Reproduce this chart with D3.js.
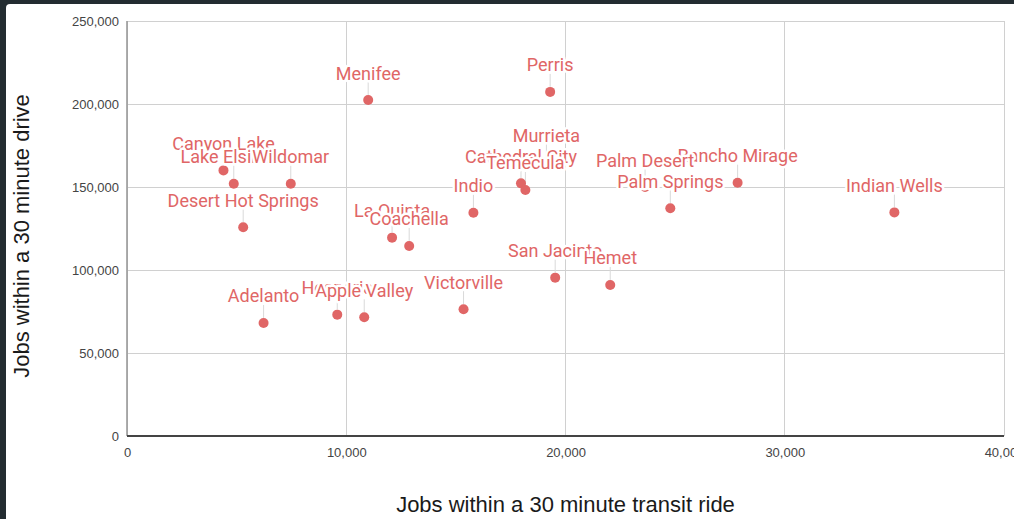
<!DOCTYPE html>
<html>
<head>
<meta charset="utf-8">
<script src="https://cdn.jsdelivr.net/npm/d3@7"></script>
<style>
  html, body { margin: 0; padding: 0; background: #232c31; }
  svg { display: block; }
</style>
</head>
<body>
<svg id="chart" width="1014" height="519"></svg>
<script>
// Cities, in the order their labels are painted (later labels sit on top)
const cities = [
  "Canyon Lake", "Lake Elsinore", "Wildomar", "Menifee", "Perris",
  "Murrieta", "Cathedral City", "Temecula", "Rancho Mirage", "Palm Desert",
  "Palm Springs", "Indian Wells", "Indio", "Desert Hot Springs", "La Quinta",
  "Coachella", "San Jacinto", "Hemet", "Adelanto", "Hesperia",
  "Apple Valley", "Victorville"
];
// Jobs reachable within a 30 minute transit ride
const transitJobs = [
  4400, 4870, 7470, 11000, 19300,
  19130, 17970, 18170, 27850, 23630,
  24780, 35000, 15800, 5300, 12090,
  12870, 19530, 22040, 6230, 9590,
  10820, 15350
];
// Jobs reachable within a 30 minute drive
const driveJobs = [
  160000, 152000, 152000, 202400, 207300,
  165000, 152200, 148200, 152600, 150000,
  137200, 134700, 134500, 125700, 119500,
  114500, 95400, 91000, 68100, 73100,
  71500, 76400
];
const xTicks = [0, 10000, 20000, 30000, 40000];
const yTicks = [0, 50000, 100000, 150000, 200000, 250000];

const points = cities.map((name, i) => ({ name, x: transitJobs[i], y: driveJobs[i] }));

const svg = d3.select("#chart");
const red = "#e06666";

// white card on the dark page
svg.append("rect")
  .attr("x", 6).attr("y", 4).attr("width", 1020).attr("height", 530)
  .attr("rx", 4).attr("fill", "#ffffff");

const x = d3.scaleLinear().domain([0, 40000]).range([127, 1004]);
const y = d3.scaleLinear().domain([0, 250000]).range([436, 21]);
const fmt = d3.format(",");

// gridlines
const grid = svg.append("g");
grid.selectAll("line.v").data(xTicks).join("line")
  .attr("x1", d => x(d)).attr("x2", d => x(d))
  .attr("y1", y(250000)).attr("y2", y(0))
  .attr("stroke", "#d0d0d0").attr("stroke-width", 1).attr("shape-rendering", "crispEdges");
grid.selectAll("line.h").data(yTicks).join("line")
  .attr("x1", x(0)).attr("x2", x(40000))
  .attr("y1", d => y(d)).attr("y2", d => y(d))
  .attr("stroke", "#d0d0d0").attr("stroke-width", 1).attr("shape-rendering", "crispEdges");

// axes (labels only; lines drawn separately)
const yAxis = svg.append("g")
  .attr("transform", `translate(${x(0)},0)`)
  .call(d3.axisLeft(y).tickValues(yTicks).tickFormat(fmt).tickSize(0).tickPadding(8));
const xAxis = svg.append("g")
  .attr("transform", `translate(0,${y(0)})`)
  .call(d3.axisBottom(x).tickValues(xTicks).tickFormat(fmt).tickSize(0).tickPadding(12));
[yAxis, xAxis].forEach(g => {
  g.select(".domain").remove();
  g.selectAll("text")
    .attr("font-family", "Arial, 'Liberation Sans', sans-serif")
    .attr("font-size", 13).attr("fill", "#444");
});

svg.append("line")
  .attr("x1", x(0)).attr("x2", x(0)).attr("y1", y(250000)).attr("y2", y(0))
  .attr("stroke", "#9a9a9a").attr("stroke-width", 1.6);
svg.append("line")
  .attr("x1", x(0)).attr("x2", x(40000)).attr("y1", y(0)).attr("y2", y(0))
  .attr("stroke", "#444").attr("stroke-width", 1.8);

// axis titles
svg.append("text")
  .attr("x", (x(0) + x(40000)) / 2).attr("y", 512)
  .attr("text-anchor", "middle")
  .attr("font-family", "Arial, 'Liberation Sans', sans-serif")
  .attr("font-size", 22).attr("fill", "#1a1a1a")
  .text("Jobs within a 30 minute transit ride");
svg.append("text")
  .attr("transform", "translate(29,236) rotate(-90)")
  .attr("text-anchor", "middle")
  .attr("font-family", "Arial, 'Liberation Sans', sans-serif")
  .attr("font-size", 22).attr("fill", "#1a1a1a")
  .text("Jobs within a 30 minute drive");

// stems from each point up to its label
svg.append("g").selectAll("line").data(points).join("line")
  .attr("x1", d => x(d.x)).attr("x2", d => x(d.x))
  .attr("y1", d => y(d.y) - 5).attr("y2", d => y(d.y) - 18)
  .attr("stroke", "#d9d9d9").attr("stroke-width", 1);

// points
svg.append("g").selectAll("circle").data(points).join("circle")
  .attr("cx", d => x(d.x)).attr("cy", d => y(d.y))
  .attr("r", 5).attr("fill", red);

// labels with a white halo
svg.append("g").selectAll("text").data(points).join("text")
  .attr("x", d => x(d.x)).attr("y", d => y(d.y) - 20.5)
  .attr("text-anchor", "middle")
  .attr("font-family", "Roboto, 'Noto Sans', sans-serif")
  .attr("font-size", 18).attr("fill", red)
  .attr("stroke", "#ffffff").attr("stroke-width", 5)
  .attr("stroke-linejoin", "round").attr("paint-order", "stroke")
  .text(d => d.name);
</script>
</body>
</html>
